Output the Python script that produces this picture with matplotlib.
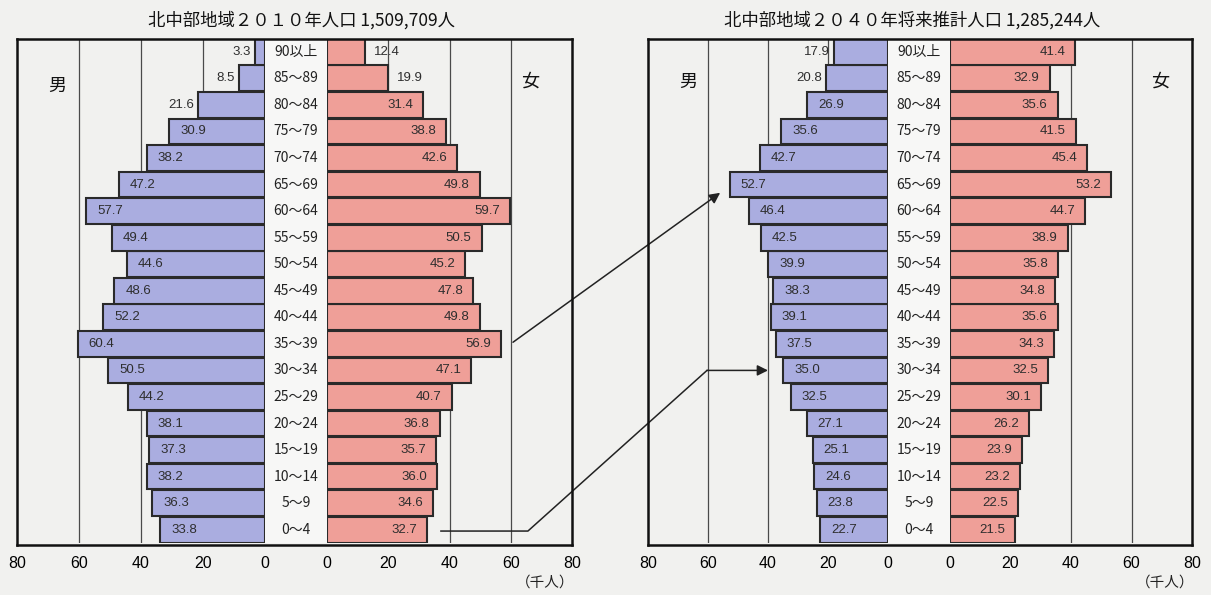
import matplotlib
matplotlib.use("Agg")
import matplotlib.pyplot as plt
from matplotlib import transforms
from matplotlib.patches import FancyArrowPatch
from matplotlib.lines import Line2D

plt.rcParams['font.family'] = ['Noto Sans CJK JP', 'DejaVu Sans']

# ---------------- data (bottom row first) ----------------
ages = ['0～4', '5～9', '10～14', '15～19', '20～24', '25～29', '30～34', '35～39',
        '40～44', '45～49', '50～54', '55～59', '60～64', '65～69', '70～74',
        '75～79', '80～84', '85～89', '90以上']
male_2010 = [33.8, 36.3, 38.2, 37.3, 38.1, 44.2, 50.5, 60.4, 52.2, 48.6,
             44.6, 49.4, 57.7, 47.2, 38.2, 30.9, 21.6, 8.5, 3.3]
female_2010 = [32.7, 34.6, 36.0, 35.7, 36.8, 40.7, 47.1, 56.9, 49.8, 47.8,
               45.2, 50.5, 59.7, 49.8, 42.6, 38.8, 31.4, 19.9, 12.4]
male_2040 = [22.7, 23.8, 24.6, 25.1, 27.1, 32.5, 35.0, 37.5, 39.1, 38.3,
             39.9, 42.5, 46.4, 52.7, 42.7, 35.6, 26.9, 20.8, 17.9]
female_2040 = [21.5, 22.5, 23.2, 23.9, 26.2, 30.1, 32.5, 34.3, 35.6, 34.8,
               35.8, 38.9, 44.7, 53.2, 45.4, 41.5, 35.6, 32.9, 41.4]
titles = ['北中部地域２０１０年人口 1,509,709人', '北中部地域２０４０年将来推計人口 1,285,244人']
ticks = [0, 20, 40, 60, 80]
unit_label = '（千人）'

# ---------------- style ----------------
W, H = 1211, 595
BG = '#f1f1ef'
MALE_C = '#aaade0'
FEMALE_C = '#ef9f98'
EDGE = '#2a2a2a'
GRID = '#4a4a4a'
NUM_FONT = ['Liberation Sans Narrow', 'Liberation Sans', 'DejaVu Sans']

fig = plt.figure(figsize=(W / 100, H / 100), dpi=100, facecolor=BG)


def add_ax(l, t, r, b):
    return fig.add_axes([l / W, 1 - b / H, (r - l) / W, (b - t) / H])


TOP, BOT = 38.5, 543.0
charts = [
    dict(mx=(17, 265), fx=(327, 572), male=male_2010, female=female_2010,
         title=titles[0], tcx=301, unit_x=545, mlab=(57, 86), flab=(530, 82)),
    dict(mx=(648, 888), fx=(950, 1192), male=male_2040, female=female_2040,
         title=titles[1], tcx=912, unit_x=1165, mlab=(688, 82), flab=(1160, 82)),
]

n = len(ages)
ypos = list(range(n))
axes_store = []

for ch in charts:
    # lighter centre column
    cc = add_ax(ch['mx'][1], TOP, ch['fx'][0], BOT)
    cc.set_facecolor('#f7f7f6')
    cc.set_xticks([]); cc.set_yticks([])
    for s in cc.spines.values():
        s.set_visible(False)
    cc.set_zorder(-1)

    axm = add_ax(ch['mx'][0], TOP, ch['mx'][1], BOT)
    axf = add_ax(ch['fx'][0], TOP, ch['fx'][1], BOT)
    for ax, vals, col, side in ((axm, ch['male'], MALE_C, 'm'), (axf, ch['female'], FEMALE_C, 'f')):
        ax.set_facecolor('none')
        ax.set_ylim(-0.5, n - 0.5)
        if side == 'm':
            ax.set_xlim(80, 0)
        else:
            ax.set_xlim(0, 80)
        for g in (20, 40, 60):
            ax.axvline(g, color=GRID, lw=0.9, zorder=0)
        ax.barh(ypos, vals, height=0.97, color=col, edgecolor=EDGE, linewidth=1.5, zorder=2)
        for spine in ax.spines.values():
            spine.set_visible(False)
        ax.set_yticks([])
        ax.set_xticks(ticks)
        ax.set_xticklabels([str(t) for t in ticks], fontsize=11.5, family=['Liberation Sans', 'DejaVu Sans'])
        ax.tick_params(axis='x', length=0, pad=9)
        for i, v in enumerate(vals):
            lab = f'{v:.1f}'
            if side == 'm':
                inside = v >= 22
                off, ha = ((11, 'left') if inside else (-4, 'right'))
            else:
                inside = v >= 20.5
                off, ha = ((-10, 'right') if inside else (9, 'left'))
            ax.annotate(lab, xy=(v, i), xytext=(off, 0), textcoords='offset pixels',
                        ha=ha, va='center', fontsize=9.5, color='#2e2e2e',
                        family=NUM_FONT, zorder=3)
    # frame
    fr = add_ax(ch['mx'][0], TOP, ch['fx'][1], BOT + 1.5)
    fr.set_facecolor('none')
    fr.set_xticks([]); fr.set_yticks([])
    for s in fr.spines.values():
        s.set_linewidth(1.8)
        s.set_color('#111111')
    fr.set_zorder(5)
    # age labels in the centre column
    cx = (ch['mx'][1] + ch['fx'][0]) / 2 / W
    tr = transforms.blended_transform_factory(fig.transFigure, axm.transData)
    for i, a in enumerate(ages):
        fig.text(cx, i, a, transform=tr, ha='center', va='center', fontsize=10, color='#222222')
    # title, sex labels, unit
    fig.text(ch['tcx'] / W, 1 - 20 / H, ch['title'], ha='center', va='center', fontsize=12.5, color='#111111')
    fig.text(ch['mlab'][0] / W, 1 - ch['mlab'][1] / H, '男', ha='center', va='center', fontsize=13, color='#111111')
    fig.text(ch['flab'][0] / W, 1 - ch['flab'][1] / H, '女', ha='center', va='center', fontsize=13, color='#111111')
    fig.text(ch['unit_x'] / W, 1 - 583 / H, unit_label, ha='center', va='center', fontsize=10.5, color='#222222')
    axes_store.append((axm, axf))

# ---------------- arrows ----------------
fig.canvas.draw()
inv = fig.transFigure.inverted()
(axm1, axf1), (axm2, axf2) = axes_store

# arrow 1: 2010 female 35-39 -> 2040 male 65-69
i_a = ages.index('35～39')
i_b = ages.index('65～69')
p0 = axf1.transData.transform((60, i_a))
p1 = axm2.transData.transform((male_2040[i_b] + 2.5, i_b - 0.25))
a1 = FancyArrowPatch(inv.transform(p0), inv.transform(p1), transform=fig.transFigure,
                     arrowstyle='-|>', mutation_scale=16, color='#222222', lw=1.1)
fig.add_artist(a1)

# arrow 2: 2010 female 0-4 -> 2040 male 30-34
i_c = ages.index('0～4')
i_d = ages.index('30～34')
q0 = axf1.transData.transform((female_2010[i_c] + 4.5, i_c - 0.05))
q3 = axm2.transData.transform((male_2040[i_d] + 5.0, i_d))
q1 = (q0[0] + 87, q0[1])
q2 = (q3[0] - 61, q3[1])
pts = [inv.transform(p) for p in (q0, q1, q2)]
fig.add_artist(Line2D([p[0] for p in pts], [p[1] for p in pts], transform=fig.transFigure,
                      color='#222222', lw=1.1))
a2 = FancyArrowPatch(inv.transform(q2), inv.transform(q3), transform=fig.transFigure,
                     arrowstyle='-|>', mutation_scale=16, color='#222222', lw=1.1,
                     shrinkA=0, shrinkB=0)
fig.add_artist(a2)

fig.savefig('out.png', dpi=100, facecolor=BG)
